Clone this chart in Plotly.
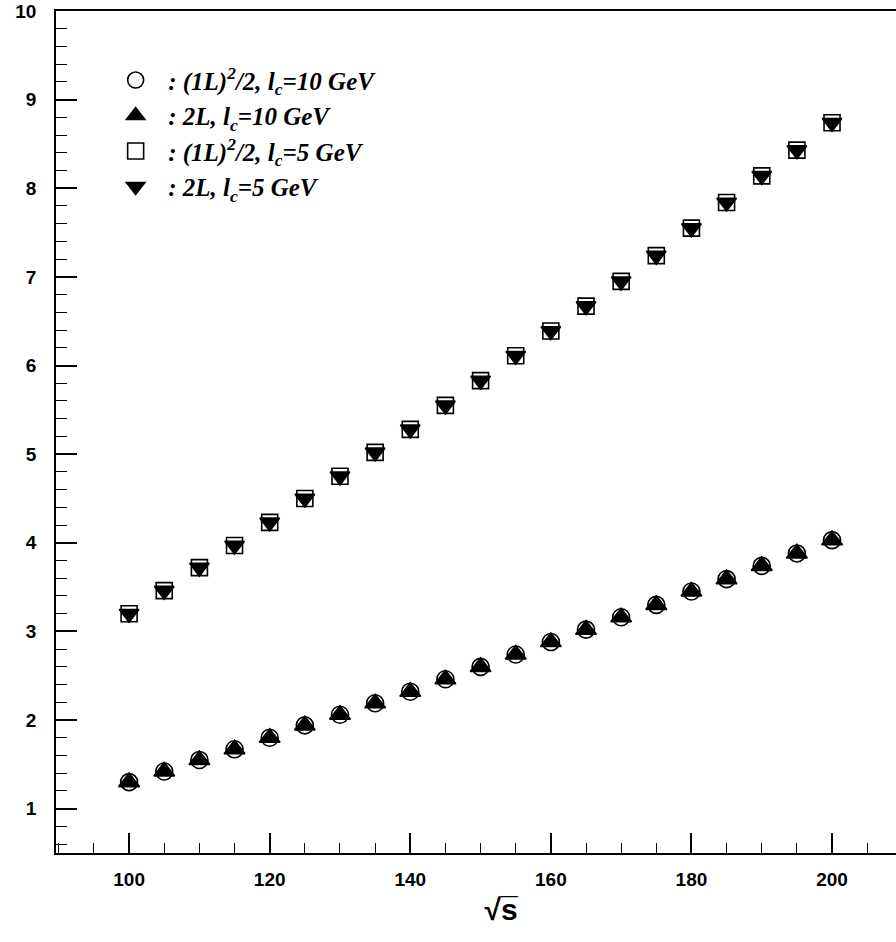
import plotly.graph_objects as go

# sqrt(s) values in GeV
sqrt_s = [100, 105, 110, 115, 120, 125, 130, 135, 140, 145, 150,
          155, 160, 165, 170, 175, 180, 185, 190, 195, 200]

# l_c = 10 GeV
one_loop_sq_lc10 = [1.30, 1.42, 1.55, 1.67, 1.80, 1.94, 2.06, 2.19, 2.32, 2.46, 2.60,
                    2.74, 2.88, 3.02, 3.16, 3.30, 3.45, 3.59, 3.74, 3.88, 4.03]
two_loop_lc10 = [1.30, 1.42, 1.55, 1.67, 1.80, 1.94, 2.06, 2.19, 2.32, 2.46, 2.60,
                 2.74, 2.88, 3.02, 3.16, 3.30, 3.45, 3.59, 3.74, 3.88, 4.03]

# l_c = 5 GeV
one_loop_sq_lc5 = [3.20, 3.46, 3.72, 3.97, 4.23, 4.50, 4.75, 5.02, 5.28, 5.55, 5.83,
                   6.11, 6.39, 6.67, 6.95, 7.24, 7.55, 7.84, 8.14, 8.43, 8.74]
two_loop_lc5 = [3.20, 3.46, 3.72, 3.97, 4.23, 4.50, 4.75, 5.02, 5.28, 5.55, 5.83,
                6.11, 6.39, 6.67, 6.95, 7.24, 7.55, 7.84, 8.14, 8.43, 8.74]

legend_labels = [
    ": (1L)<sup>2</sup>/2, l<sub>c</sub>=10 GeV",
    ": 2L, l<sub>c</sub>=10 GeV",
    ": (1L)<sup>2</sup>/2, l<sub>c</sub>=5 GeV",
    ": 2L, l<sub>c</sub>=5 GeV",
]

fig = go.Figure()

series = [
    (one_loop_sq_lc10, "circle-open", 17),
    (two_loop_lc10, "triangle-up", 18),
    (one_loop_sq_lc5, "square-open", 16),
    (two_loop_lc5, "triangle-down", 17),
]
for i, (vals, sym, size) in enumerate(series):
    fig.add_trace(go.Scatter(
        x=sqrt_s, y=vals, mode="markers",
        name="&nbsp;&nbsp;<b><i>" + legend_labels[i] + "</i></b>",
        legendgroup=str(i),
        marker=dict(symbol=sym, size=size, color="black",
                    line=dict(color="black", width=1.6)),
    ))

tick_font = dict(family="Liberation Sans, Arial, sans-serif", size=19,
                 color="black", weight="bold")

fig.update_layout(
    width=896, height=942,
    margin=dict(l=56, r=0, t=11, b=89),
    paper_bgcolor="white", plot_bgcolor="white",
    showlegend=True,
    legend=dict(
        x=0.071, y=0.945, xanchor="left", yanchor="top",
        bgcolor="rgba(0,0,0,0)", borderwidth=0,
        font=dict(family="Liberation Serif, Times New Roman, serif", size=25, color="black"),
        tracegroupgap=0, itemwidth=30,
    ),
    xaxis=dict(
        range=[89.6, 209.1], showgrid=False, zeroline=False,
        showline=True, linecolor="black", linewidth=1.5, mirror=True,
        ticks="inside", ticklen=20, tickwidth=1.5, tickcolor="black",
        tick0=100, dtick=20, tickfont=tick_font, ticklabelstandoff=8,
        minor=dict(ticks="inside", dtick=5, tick0=100, ticklen=10,
                   tickwidth=1.3, tickcolor="black", showgrid=False),
        title=dict(text="&nbsp;&nbsp;&nbsp;&nbsp;&nbsp;&nbsp;<b>√s̅</b>",
                   font=dict(family="Liberation Sans, Arial, sans-serif", size=30, color="black"),
                   standoff=10),
    ),
    yaxis=dict(
        range=[0.5, 10.0], showgrid=False, zeroline=False,
        showline=True, linecolor="black", linewidth=1.5, mirror=False,
        ticks="inside", ticklen=21, tickwidth=1.5, tickcolor="black",
        tick0=0, dtick=1, tickfont=tick_font, ticklabelstandoff=14,
        minor=dict(ticks="inside", dtick=0.2, ticklen=11,
                   tickwidth=1.3, tickcolor="black", showgrid=False),
    ),
)

fig.write_html("out.html")
